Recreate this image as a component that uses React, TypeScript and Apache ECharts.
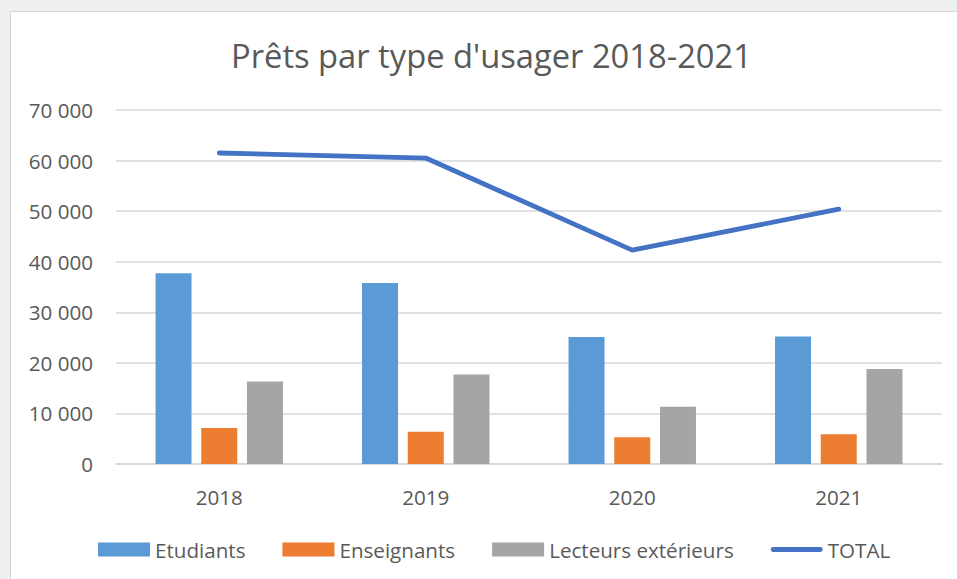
import React, { useEffect, useRef } from 'react';
import * as echarts from 'echarts';

const years = ['2018', '2019', '2020', '2021'];
const etudiants = [37700, 35800, 25100, 25200];
const enseignants = [7100, 6400, 5300, 5900];
const lecteurs = [16300, 17700, 11300, 18800];
const total = [61500, 60500, 42300, 50400];

const seriesNames = ['Etudiants', 'Enseignants', 'Lecteurs extérieurs', 'TOTAL'];
const titleText = "Prêts par type d'usager 2018-2021";

const FONT = '"Open Sans", "Noto Sans", sans-serif';
const TEXT = '#595959';
const GRID = '#d9d9d9';
const FS = 20.6;

const fmt = (v: number) => String(v).replace(/\B(?=(\d{3})+(?!\d))/g, ' ');

export default function App() {
  const ref = useRef<HTMLDivElement>(null);
  useEffect(() => {
    const chart = echarts.init(ref.current!, null, { renderer: 'svg' });
    chart.setOption({
      animation: false,
      title: {
        text: titleText,
        left: 231,
        top: 39,
        padding: 0,
        textStyle: { fontFamily: FONT, fontSize: 32.7, fontWeight: 'normal', color: TEXT },
      },
      legend: {
        left: 98,
        top: 539,
        padding: 0,
        itemWidth: 52,
        itemHeight: 14,
        itemGap: 37,
        icon: 'rect',
        textStyle: { fontFamily: FONT, fontSize: FS, color: TEXT },
        data: [
          { name: seriesNames[0] },
          { name: seriesNames[1] },
          { name: seriesNames[2] },
          {
            name: seriesNames[3],
            icon: 'path://M2.4,0 L49.6,0 A2.4,2.4 0 0 1 49.6,4.8 L2.4,4.8 A2.4,2.4 0 0 1 2.4,0 Z',
            itemStyle: { color: '#4472c4', borderWidth: 0 },
          },
        ],
      },
      grid: { left: 116, right: 15, top: 110, bottom: 115, containLabel: false },
      xAxis: {
        type: 'category',
        data: years,
        axisTick: { show: false },
        axisLine: { lineStyle: { color: GRID, width: 2 } },
        axisLabel: { fontFamily: FONT, fontSize: FS, color: TEXT, margin: 22 },
      },
      yAxis: {
        type: 'value',
        min: 0,
        max: 70000,
        interval: 10000,
        axisLine: { show: false },
        axisTick: { show: false },
        splitLine: { lineStyle: { color: GRID, width: 1.6 } },
        axisLabel: { fontFamily: FONT, fontSize: FS, color: TEXT, margin: 23, formatter: fmt },
      },
      series: [
        { name: seriesNames[0], type: 'bar', data: etudiants, barWidth: 36, barGap: '27%', itemStyle: { color: '#5b9bd5' } },
        { name: seriesNames[1], type: 'bar', data: enseignants, barWidth: 36, barGap: '27%', itemStyle: { color: '#ed7d31' } },
        { name: seriesNames[2], type: 'bar', data: lecteurs, barWidth: 36, barGap: '27%', itemStyle: { color: '#a5a5a5' } },
        {
          name: seriesNames[3],
          type: 'line',
          data: total,
          symbol: 'none',
          color: '#4472c4',
          lineStyle: { color: '#4472c4', width: 4.8, cap: 'round', join: 'round' },
        },
      ],
    });
    return () => chart.dispose();
  }, []);
  return (
    <div style={{ position: 'fixed', left: 0, top: 0, width: 957, height: 579, background: '#eeeff1', overflow: 'hidden' }}>
      <div
        style={{
          position: 'absolute',
          left: 10,
          top: 11,
          width: 960,
          height: 580,
          background: '#ffffff',
          borderLeft: '1px solid #d6d6d6',
          borderTop: '1px solid #d6d6d6',
          boxSizing: 'border-box',
        }}
      />
      <div ref={ref} style={{ position: 'absolute', left: 0, top: 0, width: 957, height: 579 }} />
    </div>
  );
}
